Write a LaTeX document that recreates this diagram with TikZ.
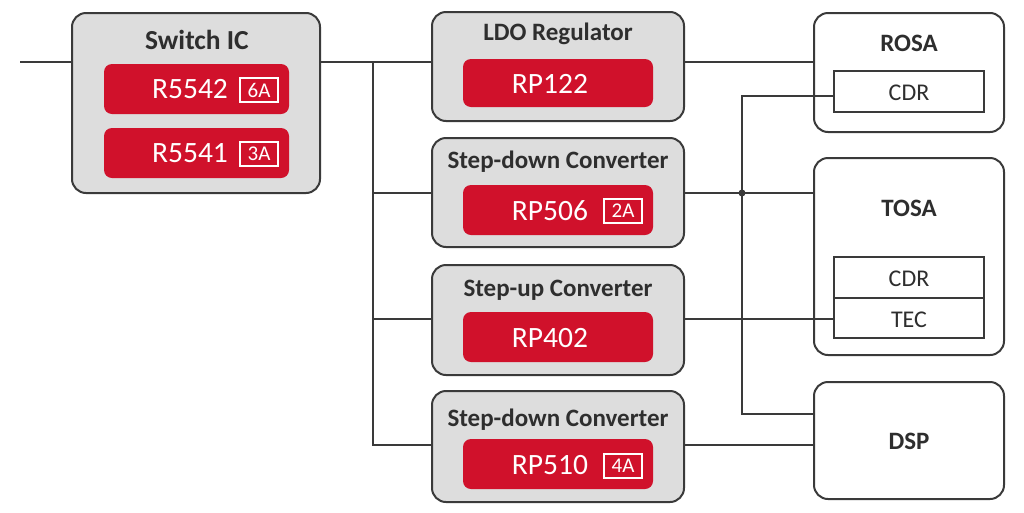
\documentclass[tikz,border=0pt]{standalone}
\usepackage{fontspec}
\setmainfont{Carlito}
\begin{document}
\begin{tikzpicture}[x=1pt,y=-1pt,
  graybox/.style={draw=linec, fill=boxg, line width=2pt, rounded corners=14pt, inner sep=0pt},
  whitebox/.style={draw=linec, fill=white, line width=2pt, rounded corners=14pt, inner sep=0pt},
  redbox/.style={fill=redc, rounded corners=8pt, inner sep=0pt},
  subbox/.style={draw=linec, fill=white, line width=2pt, inner sep=0pt},
  ttl/.style={text=textc, font=\fontsize{25}{28}\selectfont\bfseries, inner sep=0pt, anchor=center},
  rtxt/.style={text=white, font=\fontsize{29.5}{32}\selectfont, inner sep=0pt, anchor=center},
  badge/.style={draw=white, line width=1.2pt, text=white, font=\fontsize{21}{22}\selectfont, minimum width=38pt, minimum height=24pt, inner sep=0pt},
  stxt/.style={text=textc, font=\fontsize{24}{26}\selectfont, inner sep=0pt},
  wire/.style={draw=linec, line width=2pt}
]
\definecolor{linec}{HTML}{3A3A3A}
\definecolor{boxg}{HTML}{DDDDDD}
\definecolor{redc}{HTML}{D0112B}
\definecolor{textc}{HTML}{2E2E2E}
\useasboundingbox[fill=white] (0,0) rectangle (1024,512);

% Switch IC
\node[graybox, minimum width=248pt, minimum height=180pt] (sw) at (196,103) {};
\node[ttl, font=\fontsize{27.5}{30}\selectfont\bfseries] (swt) at (197,40) {Switch IC};
\node[redbox, minimum width=185pt, minimum height=50pt] (r1) at (196.5,89) {};
\node[redbox, minimum width=185pt, minimum height=50pt] (r2) at (196.5,153) {};
\node[rtxt] (r1t) at (190,89) {R5542};
\node[rtxt] (r2t) at (190,153) {R5541};
\node[badge] (b1) at (259,90) {6A};
\node[badge] (b2) at (259,154) {3A};

% middle column
\node[graybox, minimum width=252pt, minimum height=109pt] (ldo) at (558,66.5) {};
\node[ttl] (ldot) at (558,34) {LDO Regulator};
\node[redbox, minimum width=190pt, minimum height=48pt] (ldor) at (558,83) {};
\node[rtxt] (ldox) at (550,84) {RP122};

\node[graybox, minimum width=252pt, minimum height=109pt] (sd1) at (558,192.5) {};
\node[ttl] (sd1t) at (558,162) {Step-down Converter};
\node[redbox, minimum width=190pt, minimum height=50pt] (sd1r) at (558,210) {};
\node[rtxt] (sd1x) at (550,211) {RP506};
\node[badge] (b3) at (623,211) {2A};

\node[graybox, minimum width=252pt, minimum height=110pt] (su) at (558,320) {};
\node[ttl] (sut) at (558,290) {Step-up Converter};
\node[redbox, minimum width=190pt, minimum height=50pt] (sur) at (558,337) {};
\node[rtxt] (sux) at (550,338) {RP402};

\node[graybox, minimum width=252pt, minimum height=111pt] (sd2) at (558,446.5) {};
\node[ttl] (sd2t) at (558,420) {Step-down Converter};
\node[redbox, minimum width=190pt, minimum height=50pt] (sd2r) at (558,464) {};
\node[rtxt] (sd2x) at (550,465) {RP510};
\node[badge] (b4) at (623,466) {4A};

% right column
\node[whitebox, minimum width=190pt, minimum height=119pt] (rosa) at (909,72.5) {};
\node[ttl] (rosat) at (909,43) {ROSA};
\node[subbox, minimum width=150pt, minimum height=41pt] (rcdr) at (909,91.5) {};
\node[stxt] (rcdrt) at (909,93) {CDR};

\node[whitebox, minimum width=190pt, minimum height=197pt] (tosa) at (909,256.5) {};
\node[ttl] (tosat) at (909,208) {TOSA};
\node[subbox, minimum width=150pt, minimum height=41pt] (tcdr) at (909,277.5) {};
\node[subbox, minimum width=150pt, minimum height=40pt] (tec) at (909,318) {};
\node[stxt] (tcdrt) at (909,279) {CDR};
\node[stxt] (tect) at (909,320) {TEC};

\node[whitebox, minimum width=190pt, minimum height=117pt] (dsp) at (909,440.5) {};
\node[ttl] (dspt) at (909,441) {DSP};

% connectors left
\coordinate (in) at (20,62);
\coordinate (bt) at (373,62);
\coordinate (bb) at (373,445);
\draw[wire] (in) -- (sw.west |- in);
\draw[wire] (sw.east |- in) -- (ldo.west |- in);
\draw[wire] (bt) -- (bb) -- (sd2.west |- bb);
\draw[wire] (bt |- sd1) -- (sd1.west);
\draw[wire] (bt |- 0,319) -- (su.west |- 0,319);

% connectors right
\coordinate (v1) at (742,96);
\coordinate (v2) at (742,414);
\coordinate (jn) at (742,193);
\draw[wire] (ldo.east |- in) -- (rosa.west |- in);
\draw[wire] (sd1.east |- jn) -- (tosa.west |- jn);
\draw[wire] (su.east |- 0,319) -- (tec.west |- 0,319);
\draw[wire] (sd2.east |- bb) -- (dsp.west |- bb);
\draw[wire] (rcdr.west |- v1) -- (v1) -- (v2) -- (dsp.west |- v2);
\fill[linec] (jn) circle (3.5pt);
\end{tikzpicture}
\end{document}
